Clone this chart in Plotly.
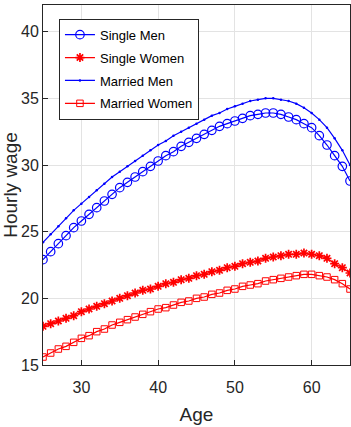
import plotly.graph_objects as go

ages = list(range(25, 66))

single_men = [22.9, 23.5, 24.1, 24.7, 25.3, 25.8, 26.3, 26.8, 27.3, 27.8,
              28.3, 28.7, 29.1, 29.5, 29.9, 30.3, 30.7, 31.0, 31.4, 31.7,
              32.0, 32.3, 32.6, 32.9, 33.1, 33.3, 33.5, 33.7, 33.8, 33.9,
              33.9, 33.8, 33.6, 33.4, 33.1, 32.8, 32.2, 31.5, 30.7, 29.9, 28.8]

single_women = [17.9, 18.1, 18.3, 18.5, 18.7, 19.0, 19.2, 19.4, 19.6, 19.8,
                20.0, 20.2, 20.4, 20.6, 20.7, 20.9, 21.1, 21.2, 21.4, 21.5,
                21.7, 21.8, 22.0, 22.1, 22.3, 22.4, 22.6, 22.7, 22.8, 23.0,
                23.1, 23.2, 23.3, 23.3, 23.4, 23.3, 23.2, 23.0, 22.6, 22.3, 21.9]

married_men = [24.2, 24.8, 25.4, 26.0, 26.6, 27.1, 27.6, 28.1, 28.6, 29.1,
               29.5, 29.9, 30.3, 30.7, 31.1, 31.5, 31.8, 32.2, 32.5, 32.8,
               33.1, 33.4, 33.7, 33.9, 34.2, 34.4, 34.6, 34.8, 34.9, 35.0,
               35.0, 34.9, 34.8, 34.6, 34.3, 33.9, 33.4, 32.8, 32.0, 31.1, 30.0]

married_women = [15.6, 15.9, 16.2, 16.4, 16.7, 17.0, 17.2, 17.5, 17.7, 18.0,
                 18.2, 18.4, 18.6, 18.8, 19.0, 19.2, 19.3, 19.5, 19.7, 19.8,
                 20.0, 20.1, 20.3, 20.4, 20.6, 20.7, 20.9, 21.0, 21.1, 21.3,
                 21.4, 21.5, 21.6, 21.7, 21.8, 21.8, 21.7, 21.6, 21.4, 21.1, 20.7]

x_ticks = [30, 40, 50, 60]
y_ticks = [15, 20, 25, 30, 35, 40]

BLUE = "#0000ff"
RED = "#ff0000"
FONT = "Liberation Sans, Arial, Helvetica, sans-serif"
TXT = "#262626"

fig = go.Figure()
fig.add_trace(go.Scatter(
    x=ages, y=single_men, name="Single Men", mode="lines+markers", legendgroup="a",
    line=dict(color=BLUE, width=1.2),
    marker=dict(symbol="circle-open", size=8.5, color=BLUE, line=dict(width=1.2, color=BLUE))))
fig.add_trace(go.Scatter(
    x=ages, y=single_women, name="Single Women", mode="lines+markers", legendgroup="b",
    line=dict(color=RED, width=1.2),
    marker=dict(symbol="asterisk-open", size=7.5, color=RED, line=dict(width=1.7, color=RED))))
fig.add_trace(go.Scatter(
    x=ages, y=married_men, name="Married Men", mode="lines+markers", legendgroup="c",
    line=dict(color=BLUE, width=1.2),
    marker=dict(symbol="circle", size=2.5, color=BLUE)))
fig.add_trace(go.Scatter(
    x=ages, y=married_women, name="Married Women", mode="lines+markers", legendgroup="d",
    line=dict(color=RED, width=1.2),
    marker=dict(symbol="square-open", size=6.5, color=RED, line=dict(width=1, color=RED))))

axis_common = dict(
    showgrid=True, gridcolor="#e3e3e3", gridwidth=1,
    showline=True, linecolor=TXT, linewidth=1, mirror=True,
    ticks="inside", ticklen=5, tickcolor=TXT,
    zeroline=False, tickfont=dict(family=FONT, size=16, color=TXT),
    automargin=False,
)

fig.update_layout(
    width=351, height=427,
    margin=dict(l=43, r=1, t=5, b=62),
    paper_bgcolor="white", plot_bgcolor="white",
    font=dict(family=FONT, color=TXT),
    xaxis=dict(range=[25, 65], tickvals=x_ticks, ticklabelstandoff=8,
               title=dict(text="Age", font=dict(family=FONT, size=19, color=TXT), standoff=12),
               **axis_common),
    yaxis=dict(range=[15, 42], tickvals=y_ticks,
               title=dict(text="Hourly wage", font=dict(family=FONT, size=19, color=TXT), standoff=6),
               **axis_common),
    legend=dict(x=0.052, y=0.962, xanchor="left", yanchor="top",
                bgcolor="white", bordercolor=TXT, borderwidth=1,
                font=dict(family=FONT, size=13, color="#000000"),
                traceorder="grouped", tracegroupgap=3, itemwidth=30),
    showlegend=True,
)

fig.write_html("out.html")
